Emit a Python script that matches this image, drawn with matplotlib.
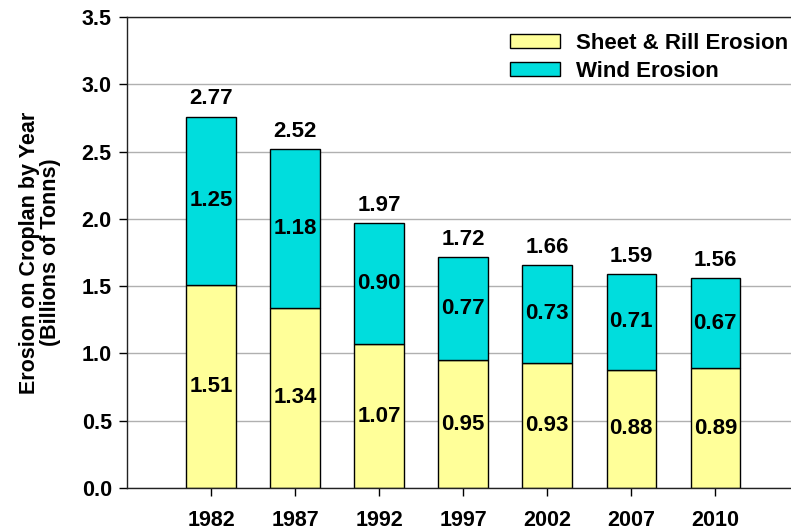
import numpy as np
import matplotlib
matplotlib.use("Agg")
import matplotlib.pyplot as plt

plt.rcParams['font.family'] = ['Liberation Sans', 'DejaVu Sans']
plt.rcParams['font.weight'] = 'bold'

years = ['1982', '1987', '1992', '1997', '2002', '2007', '2010']
sheet_rill = [1.51, 1.34, 1.07, 0.95, 0.93, 0.88, 0.89]
wind = [1.25, 1.18, 0.90, 0.77, 0.73, 0.71, 0.67]
totals = [2.77, 2.52, 1.97, 1.72, 1.66, 1.59, 1.56]

yellow = '#FFFF99'
cyan = '#00DDDD'

fig = plt.figure(figsize=(7.91, 5.32), dpi=100)
ax = fig.add_axes([0.1606, 0.0827, 0.8394, 0.8853])

x = np.arange(len(years))
w = 0.59
ax.bar(x, sheet_rill, w, color=yellow, edgecolor='black', linewidth=1.0,
       label='Sheet & Rill Erosion', zorder=2)
ax.bar(x, wind, w, bottom=sheet_rill, color=cyan, edgecolor='black',
       linewidth=1.0, label='Wind Erosion', zorder=2)

for i in range(len(years)):
    ax.text(x[i], sheet_rill[i] / 2, f'{sheet_rill[i]:.2f}', ha='center',
            va='center', fontsize=16, fontweight='bold', zorder=3)
    ax.text(x[i], sheet_rill[i] + wind[i] / 2, f'{wind[i]:.2f}', ha='center',
            va='center', fontsize=16, fontweight='bold', zorder=3)
    ax.text(x[i], totals[i] + 0.05, f'{totals[i]:.2f}', ha='center',
            va='bottom', fontsize=16, fontweight='bold', zorder=3)

ax.set_xlim(-1.0, 6.9)
ax.set_ylim(0, 3.5)
ax.set_yticks(np.arange(0, 3.51, 0.5))
ax.set_yticklabels([f'{v:.1f}' for v in np.arange(0, 3.51, 0.5)])
ax.set_xticks(x)
ax.set_xticklabels(years)
ax.tick_params(axis='both', labelsize=15.5, direction='out', width=1.0)
ax.tick_params(axis='y', length=6, pad=5)
ax.tick_params(axis='x', length=6, pad=10)

ax.yaxis.grid(True, color='#B0B0B0', linewidth=1.0, zorder=0)
ax.set_axisbelow(True)
ax.spines['right'].set_visible(False)
for s in ['left', 'bottom', 'top']:
    ax.spines[s].set_linewidth(1.0)
    ax.spines[s].set_color('#222222')

ax.set_ylabel('Erosion on Croplan by Year\n(Billions of Tonns)', fontsize=15.5,
              fontweight='bold', labelpad=15, linespacing=1.0)

ax.legend(loc='upper right', frameon=False, fontsize=16, handlelength=2.25,
          handleheight=0.6, handletextpad=0.7, labelspacing=0.3,
          bbox_to_anchor=(1.012, 0.99), borderaxespad=0.1)

fig.savefig('out.png', dpi=100)
